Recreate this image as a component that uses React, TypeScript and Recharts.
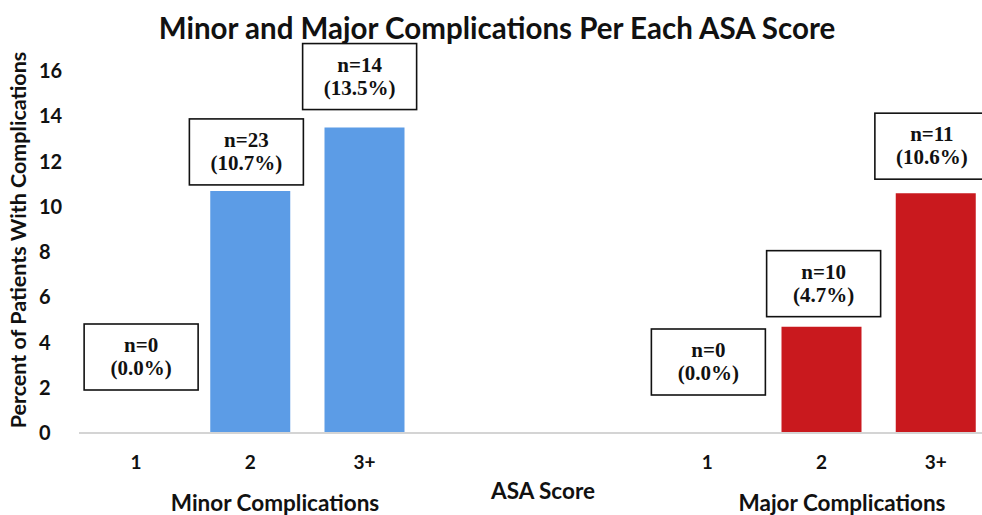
import React from 'react';
import { ComposedChart, Bar, Line, XAxis, YAxis } from 'recharts';

// ASA score groups
const scoreLabels = ['1', '2', '3+'];
const minorPercent = [0, 10.7, 13.5];
const minorCounts = [0, 23, 14];
const majorPercent = [0, 4.7, 10.6];
const majorCounts = [0, 10, 11];
const yTicks = [0, 2, 4, 6, 8, 10, 12, 14, 16];
const spacerCount = 2;

const BLUE = '#5c9ce6';
const RED = '#c9191e';
const SANS = 'Lato, "Open Sans", sans-serif';
const SERIF = '"Liberation Serif", "DejaVu Serif", serif';

// label boxes are placed by hand in the original: lift above bar top, x shift
const LABEL_LIFT = [43, 6, 18, 0, 0, 38, 10, 14];
const LABEL_SHIFT = [5, -4, -5, 0, 0, 1, 2, -4];

type Row = {
  key: string;
  score: string;
  minor?: number;
  major?: number;
  pct?: number;
  n?: number;
};

const rows: Row[] = [
  ...scoreLabels.map((s, i) => ({ key: `minor-${s}`, score: s, minor: minorPercent[i], pct: minorPercent[i], n: minorCounts[i] })),
  ...Array.from({ length: spacerCount }, (_, i) => ({ key: `gap-${i}`, score: '' })),
  ...scoreLabels.map((s, i) => ({ key: `major-${s}`, score: s, major: majorPercent[i], pct: majorPercent[i], n: majorCounts[i] })),
];

// drawn as the "dot" of an invisible line so every bar (even zero ones) gets a box
const BoxLabel = (props: any) => {
  const { cx, cy, index, payload } = props;
  if (!payload || payload.pct == null || cy == null) return null;
  const boxW = 114;
  const boxH = 66;
  const x = cx + LABEL_SHIFT[index];
  const bottom = cy - LABEL_LIFT[index];
  const top = bottom - boxH;
  return (
    <g key={`box-${index}`}>
      <rect x={x - boxW / 2} y={top} width={boxW} height={boxH} fill="#fff" stroke="#111" strokeWidth={1.6} />
      <text x={x} y={top + 28} textAnchor="middle" fontFamily={SERIF} fontWeight="bold" fontSize={21} fill="#111">
        {`n=${payload.n}`}
      </text>
      <text x={x} y={top + 51} textAnchor="middle" fontFamily={SERIF} fontWeight="bold" fontSize={21} fill="#111">
        {`(${payload.pct.toFixed(1)}%)`}
      </text>
    </g>
  );
};

const YTick = (props: any) => {
  const { y, payload } = props;
  return (
    <text x={39} y={y} dy={7} textAnchor="start" fontFamily={SANS} fontWeight="bold" fontSize={20} fill="#111">
      {payload.value}
    </text>
  );
};

const XTick = (props: any) => {
  const { x, y, payload } = props;
  const row = rows[payload.index];
  return (
    <text x={x} y={y + 28} textAnchor="middle" fontFamily={SANS} fontWeight="bold" fontSize={19} fill="#111">
      {row ? row.score : ''}
    </text>
  );
};

const textStyle: React.CSSProperties = {
  position: 'absolute',
  fontFamily: SANS,
  fontWeight: 700,
  color: '#111',
  whiteSpace: 'nowrap',
  transform: 'translate(-50%, -50%)',
};

export default function App() {
  return (
    <div style={{ position: 'absolute', left: 0, top: 0, width: 982, height: 515, overflow: 'hidden', background: '#fff' }}>
      <ComposedChart
        width={1000}
        height={515}
        data={rows}
        margin={{ top: 71, right: 7, left: 0, bottom: 0 }}
        barSize={80}
      >
        <XAxis
          dataKey="key"
          height={82}
          tickLine={false}
          axisLine={{ stroke: '#d4d4d4', strokeWidth: 2 }}
          tick={<XTick />}
          interval={0}
        />
        <YAxis
          width={79}
          domain={[0, 16]}
          ticks={yTicks}
          axisLine={false}
          tickLine={false}
          tick={<YTick />}
        />
        <Bar dataKey="minor" stackId="a" fill={BLUE} isAnimationActive={false} />
        <Bar dataKey="major" stackId="a" fill={RED} isAnimationActive={false} />
        <Line
          dataKey="pct"
          stroke="none"
          connectNulls={false}
          dot={BoxLabel}
          activeDot={false}
          isAnimationActive={false}
          legendType="none"
        />
      </ComposedChart>

      <div style={{ ...textStyle, left: 497, top: 27, fontSize: 29.5 }}>
        Minor and Major Complications Per Each ASA Score
      </div>
      <div style={{ ...textStyle, left: 18, top: 240, fontSize: 21.5, transform: 'translate(-50%, -50%) rotate(-90deg)' }}>
        Percent of Patients With Complications
      </div>
      <div style={{ ...textStyle, left: 543, top: 490, fontSize: 22.5 }}>ASA Score</div>
      <div style={{ ...textStyle, left: 275, top: 502, fontSize: 22.5 }}>Minor Complications</div>
      <div style={{ ...textStyle, left: 842, top: 502, fontSize: 22.5 }}>Major Complications</div>
    </div>
  );
}
